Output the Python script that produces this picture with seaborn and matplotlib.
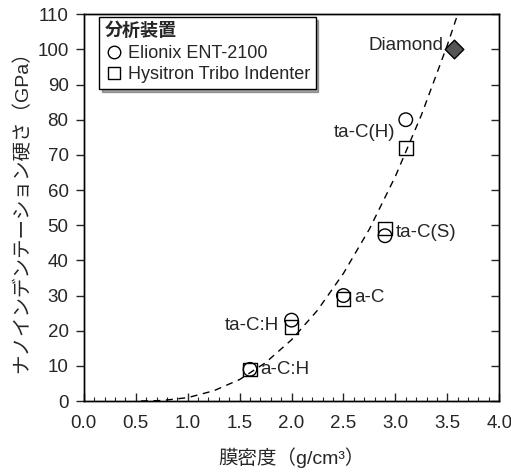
import numpy as np
import pandas as pd
import matplotlib
matplotlib.use("Agg")
import matplotlib.pyplot as plt
from matplotlib.lines import Line2D
from matplotlib.ticker import MultipleLocator
import seaborn as sns

# measured points
films = ["a-C:H", "ta-C:H", "a-C", "ta-C(S)", "ta-C(H)"]
density = [1.6, 2.0, 2.5, 2.9, 3.1]
elionix = [9, 23, 30, 47, 80]
hysitron = [9, 21, 29, 49, 72]
diamond_x = [3.56]
diamond_y = [100]

# dashed fit line
curve_x = [0.55, 0.75, 1.0, 1.25, 1.5, 1.75, 2.0, 2.25, 2.5, 2.75, 3.0, 3.25, 3.5, 3.6, 3.65]
curve_y = [0, 0.13, 0.96, 2.9, 6.1, 10.9, 17.4, 25.8, 36.3, 48.9, 63.9, 81.3, 101.2, 110, 114]

inst_names = ["Elionix ENT-2100", "Hysitron Tribo Indenter"]

df = pd.DataFrame({
    "film": films * 2,
    "density": density * 2,
    "hardness": elionix + hysitron,
    "instrument": [inst_names[0]] * 5 + [inst_names[1]] * 5,
})

sns.set_style("white")
plt.rcParams["font.family"] = ["Liberation Sans", "Noto Sans CJK JP", "DejaVu Sans"]

fig = plt.figure(figsize=(5.11, 4.74), dpi=100)
ax = fig.add_axes([0.164, 0.154, 0.813, 0.816])

ax.plot(curve_x, curve_y, color="black", linestyle=(0, (5, 4)), linewidth=1)

sns.scatterplot(data=df, x="density", y="hardness", style="instrument",
                markers={inst_names[0]: "o", inst_names[1]: "s"},
                s=95, facecolors="none", edgecolor="black", linewidth=1,
                legend=False, ax=ax, zorder=3)
sns.scatterplot(x=diamond_x, y=diamond_y, marker="D", s=90, color="#555555",
                edgecolor="black", linewidth=1, ax=ax, zorder=4)

fs = 13.5
ax.text(3.46, 101, "Diamond", ha="right", va="center", fontsize=fs)
ax.text(3.0, 76.5, "ta-C(H)", ha="right", va="center", fontsize=fs)
ax.text(3.0, 48, "ta-C(S)", ha="left", va="center", fontsize=fs)
ax.text(2.6, 29.5, "a-C", ha="left", va="center", fontsize=fs)
ax.text(1.88, 21.5, "ta-C:H", ha="right", va="center", fontsize=fs)
ax.text(1.7, 9, "a-C:H", ha="left", va="center", fontsize=fs)

ax.set_xlim(0, 4)
ax.set_ylim(0, 110)
ax.xaxis.set_major_locator(MultipleLocator(0.5))
ax.xaxis.set_minor_locator(MultipleLocator(0.1))
ax.yaxis.set_major_locator(MultipleLocator(10))
ax.xaxis.set_major_formatter(matplotlib.ticker.FormatStrFormatter("%.1f"))
ax.tick_params(axis="x", which="major", direction="in", length=6, width=1,
               labelsize=fs, bottom=True, top=False, pad=10)
ax.tick_params(axis="x", which="minor", direction="in", length=3, width=0.8,
               bottom=True, top=False)
ax.tick_params(axis="y", which="major", direction="out", length=6, width=1,
               labelsize=fs, left=True, right=False, pad=5)

ax2 = ax.twinx()
ax2.set_ylim(0, 110)
ax2.yaxis.set_major_locator(MultipleLocator(10))
ax2.tick_params(axis="y", direction="in", length=6, width=1, labelright=False)

for a in (ax, ax2):
    for sp in a.spines.values():
        sp.set_color("black")
        sp.set_linewidth(1)

ax.set_xlabel("膜密度（g/cm³）", fontsize=14, labelpad=11)
ax.set_ylabel("ナノインデンテーション硬さ（GPa）", fontsize=14, labelpad=4)

handles = [
    Line2D([], [], marker="o", linestyle="none", markerfacecolor="none",
           markeredgecolor="black", markersize=9),
    Line2D([], [], marker="s", linestyle="none", markerfacecolor="none",
           markeredgecolor="black", markersize=8.5),
]
leg = ax.legend(handles, inst_names, title="分析装置", loc="upper left",
                bbox_to_anchor=(0.015, 1.015), fontsize=13, title_fontsize=13,
                frameon=True, fancybox=False, shadow=True, handletextpad=0.3,
                handlelength=1.0, borderpad=0.3, labelspacing=0.25,
                alignment="left")
leg.get_frame().set_edgecolor("black")
leg.get_frame().set_linewidth(1)
leg.get_title().set_fontweight("bold")
leg.set_zorder(5)

fig.savefig("out.png", dpi=100)
